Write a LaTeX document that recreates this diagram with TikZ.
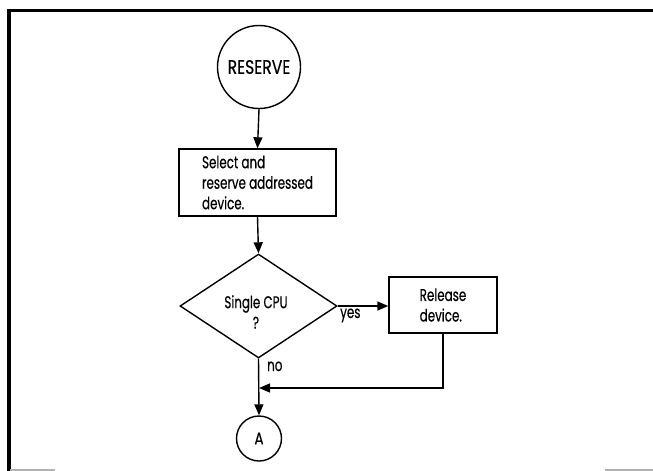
\documentclass[tikz,border=0pt]{standalone}
\usepackage{fontspec}
\setmainfont{Poppins}
\newfontfamily\chartfont[FakeStretch=0.7,FakeBold=0.4]{Poppins}
\newfontfamily\termfont[FakeStretch=0.8,FakeBold=0.4]{Poppins}
\usetikzlibrary{shapes.geometric,arrows.meta}
\begin{document}
\begin{tikzpicture}[x=1pt,y=-1pt,
  every node/.style={font=\chartfont\fontsize{17}{20.5}\selectfont},
  line/.style={line width=1.4pt},
  arr/.style={line width=1.4pt, -{Triangle[length=11pt,width=9pt]}},
  procbox/.style={draw, line width=1.4pt, rectangle, inner sep=0pt, align=left},
  term/.style={draw, line width=1.4pt, circle, inner sep=0pt},
  decision/.style={draw, line width=1.4pt, diamond, inner sep=0pt},
  lbl/.style={inner sep=0pt, anchor=base west},
  frameline/.style={line width=3.5pt}
]
\useasboundingbox (0,0) rectangle (653,471);
% frame
\coordinate (ftl) at (9,10.5);
\coordinate (ftr) at (653,10.5);
\coordinate (fbl) at (9,471);
\draw[frameline] (ftr) -- (ftl) -- (fbl);
\coordinate (gb1) at (10,470);
\coordinate (gb2) at (55,470);
\coordinate (gb3) at (605,470);
\coordinate (gb4) at (653,470);
\draw[gray!60, line width=1.2pt] (gb1) -- (gb2);
\draw[gray!60, line width=1.2pt] (gb3) -- (gb4);

% nodes
\node[term, minimum size=83pt, font=\termfont\fontsize{19.5}{21}\selectfont] (res) at (259,67) {RESERVE};
\node[procbox, minimum width=157pt, minimum height=67pt] (sel) at (257.5,182.5)
  {Select and\\reserve addressed\\device.};
\node[decision, minimum width=157pt, minimum height=104pt] (dec) at (258.5,306) {};
\node[inner sep=0pt, align=center] (dectxt) at (256,312) {Single CPU\\?};
\node[procbox, minimum width=108pt, minimum height=56pt] (rel) at (443,305)
  {Release\\device.};
\node[term, minimum size=45pt, font=\termfont\fontsize{17}{19}\selectfont] (a) at (259,438.5) {A};
\node[lbl] (yes) at (340,318) {yes};
\node[lbl] (no) at (267,371) {no};
\coordinate (j) at (259,388);

% connectors
\draw[arr] (res.south) -- (sel.north);
\draw[arr] (sel.south) -- (dec.north);
\draw[arr] (dec.east) -- (dec.east -| rel.west);
\draw[arr] (dec.south) -- (a.north);
\draw[arr] (rel.south) |- (j);
\end{tikzpicture}
\end{document}
